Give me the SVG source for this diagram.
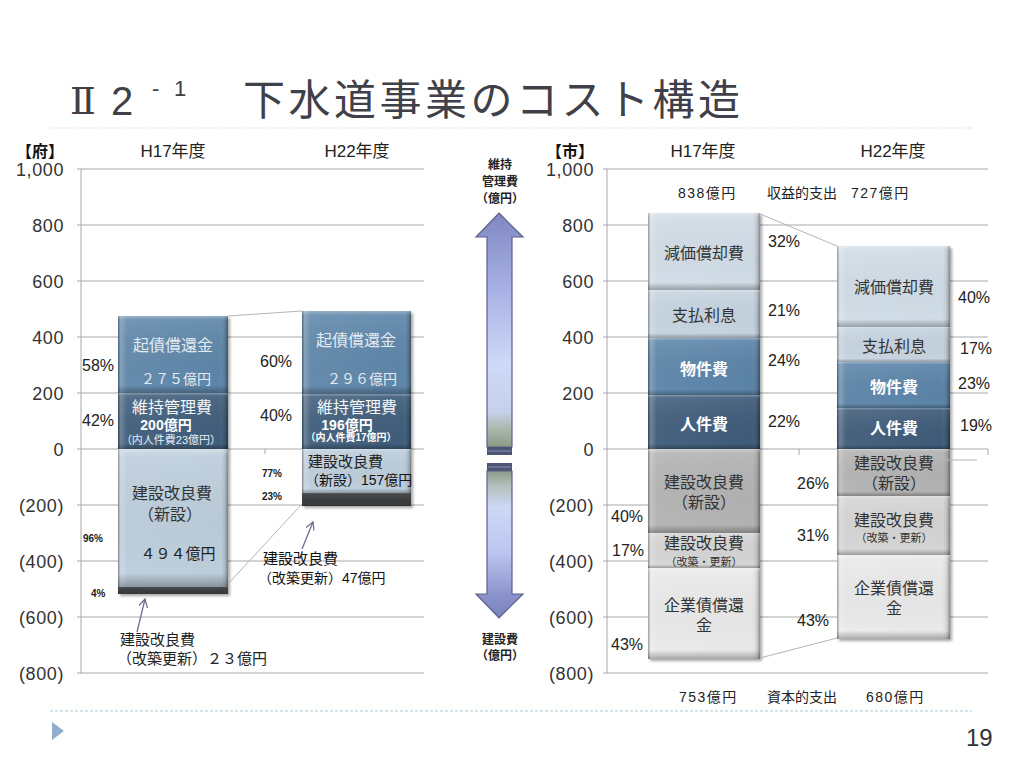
<svg xmlns="http://www.w3.org/2000/svg" width="1024" height="768" viewBox="0 0 1024 768">
<defs>
<style>
text{font-family:"Liberation Sans","Noto Sans CJK JP",sans-serif;fill:#222}
.grid{stroke:#a8a8a8;stroke-width:1}
.ax{font-size:18px;text-anchor:end;fill:#333;letter-spacing:0.6px}
.hd{font-size:17px;text-anchor:middle;fill:#222}
.pct{font-size:16px;fill:#222}
.sp{font-size:10px;font-weight:bold;fill:#222}
.lb{font-size:16px;text-anchor:middle;fill:#333}
.bw{font-weight:bold;fill:#fff}
.sm{font-size:11px;text-anchor:middle}
.hl{fill:url(#gh)}
.vl{fill:url(#gv)}
.shd{fill:#000;opacity:0.35;filter:url(#bl)}
.con{stroke:#b4b4b4;stroke-width:1;fill:none}
.ann{stroke:#6c7090;stroke-width:1.3;fill:none;marker-end:url(#ah)}
.mid{font-size:12px;text-anchor:middle;font-weight:bold;fill:#222}
.tot{font-size:14px;fill:#222}
.num{letter-spacing:1.5px}
</style>
<linearGradient id="gh" x1="0" y1="0" x2="1" y2="0">
<stop offset="0" stop-color="#000" stop-opacity="0.35"/>
<stop offset="0.025" stop-color="#fff" stop-opacity="0.25"/>
<stop offset="0.08" stop-color="#fff" stop-opacity="0.05"/>
<stop offset="0.92" stop-color="#fff" stop-opacity="0"/>
<stop offset="0.975" stop-color="#000" stop-opacity="0.12"/>
<stop offset="1" stop-color="#000" stop-opacity="0.4"/>
</linearGradient>
<linearGradient id="gv" x1="0" y1="0" x2="0" y2="1">
<stop offset="0" stop-color="#fff" stop-opacity="0.35"/>
<stop offset="0.05" stop-color="#fff" stop-opacity="0.08"/>
<stop offset="0.9" stop-color="#000" stop-opacity="0"/>
<stop offset="1" stop-color="#000" stop-opacity="0.28"/>
</linearGradient>
<filter id="bl" x="-10%" y="-10%" width="120%" height="120%"><feGaussianBlur stdDeviation="1.5"/></filter>
<marker id="ah" viewBox="0 0 10 10" refX="9" refY="5" markerWidth="9" markerHeight="9" markerUnits="userSpaceOnUse" orient="auto"><path d="M0,0 L9,5 L0,10" fill="none" stroke="#6c7090" stroke-width="1.4"/></marker>
<linearGradient id="arU" gradientUnits="userSpaceOnUse" x1="0" y1="213" x2="0" y2="447">
<stop offset="0" stop-color="#7f87c2"/>
<stop offset="0.35" stop-color="#abb4e6"/>
<stop offset="0.65" stop-color="#cfd9f8"/>
<stop offset="0.85" stop-color="#c6d0ea"/>
<stop offset="0.93" stop-color="#a8b4a8"/>
<stop offset="1" stop-color="#8c9a88"/>
</linearGradient>
<linearGradient id="arD" gradientUnits="userSpaceOnUse" x1="0" y1="471" x2="0" y2="618">
<stop offset="0" stop-color="#8c9a88"/>
<stop offset="0.1" stop-color="#b4c0bc"/>
<stop offset="0.25" stop-color="#cdd8f6"/>
<stop offset="0.55" stop-color="#bcc6f0"/>
<stop offset="0.85" stop-color="#8a92cc"/>
<stop offset="1" stop-color="#7a82bc"/>
</linearGradient>
</defs>
<rect width="1024" height="768" fill="#fff"/>

<g id="title">
<text x="70" y="114" font-size="38" style="font-family:'DejaVu Serif','Liberation Serif','Noto Sans CJK JP',serif;fill:#404048">Ⅱ</text>
<text x="111" y="115" font-size="40" style="fill:#404048">2</text>
<text x="152" y="96" font-size="22" style="fill:#404048">-</text>
<text x="174" y="96" font-size="22" style="fill:#404048">1</text>
<text x="243" y="115" font-size="42" letter-spacing="3.5" style="font-family:'Noto Sans CJK JP',sans-serif;fill:#404048">下水道事業のコスト構造</text>
</g>
<line x1="50" y1="128" x2="972" y2="128" stroke="#c4c4c4" stroke-width="1" stroke-dasharray="1,2"/>
<line x1="50" y1="711" x2="972" y2="711" stroke="#a9c4d8" stroke-width="1" stroke-dasharray="3,2"/>
<polygon points="52,722 64,731 52,740" fill="#8eaecb"/>
<text x="966" y="746" font-size="24" style="fill:#333">19</text>

<!-- LEFT CHART -->
<g id="left-axis">
<text x="16" y="157" font-size="16" font-weight="bold" style="fill:#111">【府】</text>
<text class="hd" x="173" y="157">H17年度</text>
<text class="hd" x="357" y="157">H22年度</text>
<g class="grid">
<line x1="77" y1="169" x2="424" y2="169"/><line x1="77" y1="225" x2="424" y2="225"/>
<line x1="77" y1="281" x2="424" y2="281"/><line x1="77" y1="337" x2="424" y2="337"/>
<line x1="77" y1="393" x2="424" y2="393"/><line x1="77" y1="449" x2="424" y2="449"/>
<line x1="77" y1="505" x2="424" y2="505"/><line x1="77" y1="561" x2="424" y2="561"/>
<line x1="77" y1="617" x2="424" y2="617"/><line x1="77" y1="673" x2="424" y2="673"/>
<line x1="81" y1="169" x2="81" y2="673"/>
<line x1="265" y1="449" x2="265" y2="454"/>
</g>
<text class="ax" x="64" y="176">1,000</text>
<text class="ax" x="64" y="232">800</text>
<text class="ax" x="64" y="288">600</text>
<text class="ax" x="64" y="344">400</text>
<text class="ax" x="64" y="400">200</text>
<text class="ax" x="64" y="456">0</text>
<text class="ax" x="64" y="512">(200)</text>
<text class="ax" x="64" y="568">(400)</text>
<text class="ax" x="64" y="624">(600)</text>
<text class="ax" x="64" y="680">(800)</text>
</g>

<rect class="shd" x="120" y="318" width="110" height="278"/>
<rect class="shd" x="304" y="313" width="109" height="195"/>

<g id="f17-kisai">
<rect x="118" y="316" width="110" height="77" fill="#5e86a9"/><rect class="hl" x="118" y="316" width="110" height="77"/><rect class="vl" x="118" y="316" width="110" height="77"/>
<text class="lb" x="173" y="351" style="fill:#e3ebf3">起債償還金</text>
<text class="lb" x="176" y="384" style="fill:#e3ebf3;font-size:14px">２７５億円</text>
</g>
<g id="f17-iji">
<rect x="118" y="393" width="110" height="56" fill="#3f5d7b"/><rect class="hl" x="118" y="393" width="110" height="56"/><rect class="vl" x="118" y="393" width="110" height="56"/>
<text class="lb" x="172" y="413" style="fill:#f4f7fa">維持管理費</text>
<text class="lb" x="166" y="430" style="fill:#fff;font-size:14px;font-weight:bold">200億円</text>
<text class="sm" x="171" y="444" style="fill:#e8eef4">（内人件費23億円）</text>
</g>
<g id="f17-shinsetsu">
<rect x="118" y="449" width="110" height="138" fill="#bccddb"/><rect class="hl" x="118" y="449" width="110" height="138"/><rect class="vl" x="118" y="449" width="110" height="138"/>
<text class="lb" x="172" y="499">建設改良費</text>
<text class="lb" x="170" y="520">（新設）</text>
<text class="lb" x="178" y="559" style="fill:#222;font-size:15px">４９４億円</text>
</g>
<g id="f17-kaichiku">
<rect x="118" y="587" width="110" height="7" fill="#3a3b3d"/><rect class="vl" x="118" y="587" width="110" height="7"/>
</g>

<g id="f22-kisai">
<rect x="302" y="311" width="109" height="83" fill="#5e86a9"/><rect class="hl" x="302" y="311" width="109" height="83"/><rect class="vl" x="302" y="311" width="109" height="83"/>
<text class="lb" x="356" y="346" style="fill:#e3ebf3">起債償還金</text>
<text class="lb" x="362" y="384" style="fill:#e3ebf3;font-size:14px">２９６億円</text>
</g>
<g id="f22-iji">
<rect x="302" y="394" width="109" height="55" fill="#3f5d7b"/><rect class="hl" x="302" y="394" width="109" height="55"/><rect class="vl" x="302" y="394" width="109" height="55"/>
<text class="lb" x="357" y="413" style="fill:#f4f7fa">維持管理費</text>
<text class="lb" x="347" y="430" style="fill:#fff;font-size:14px;font-weight:bold">196億円</text>
<text class="sm" x="351" y="441" style="fill:#fff;font-size:10px;font-weight:bold">（内人件費17億円）</text>
</g>
<g id="f22-shinsetsu">
<rect x="302" y="449" width="109" height="44" fill="#bccddb"/><rect class="hl" x="302" y="449" width="109" height="44"/><rect class="vl" x="302" y="449" width="109" height="44"/>
<text x="308" y="467" font-size="15" style="fill:#222">建設改良費</text>
<text x="305" y="485" font-size="14" style="fill:#111">（新設）157億円</text>
</g>
<g id="f22-kaichiku">
<rect x="302" y="493" width="109" height="13" fill="#3a3b3d"/><rect class="vl" x="302" y="493" width="109" height="13"/>
</g>

<g id="left-pct">
<text class="pct" x="82" y="371">58%</text>
<text class="pct" x="82" y="426">42%</text>
<text class="pct" x="260" y="367">60%</text>
<text class="pct" x="260" y="421">40%</text>
<text class="sp" x="262" y="477">77%</text>
<text class="sp" x="262" y="500">23%</text>
<text class="sp" x="83" y="542">96%</text>
<text class="sp" x="91" y="597">4%</text>
</g>

<g id="left-annotations">
<text x="263" y="564" font-size="15" style="fill:#111">建設改良費</text>
<text x="258" y="583" font-size="14" style="fill:#111">（改築更新）47億円</text>
<text x="120" y="645" font-size="15" style="fill:#222">建設改良費</text>
<text x="117" y="664" font-size="15" style="fill:#222">（改築更新）２３億円</text>
</g>

<!-- MIDDLE ARROW -->
<g id="mid-arrow">
<text class="mid" x="500" y="169">維持</text>
<text class="mid" x="500" y="186">管理費</text>
<text class="mid" x="500" y="203">（億円）</text>
<path d="M499,213 L523,237 L512,237 L512,447 L487,447 L487,237 L476,237 Z" fill="url(#arU)" stroke="#5a6088" stroke-width="1.2"/>
<rect x="487" y="447" width="25" height="8" fill="#4d5577"/>
<line x1="488" y1="451" x2="511" y2="451" stroke="#8890b0" stroke-width="1"/>
<rect x="487" y="463" width="25" height="8" fill="#4d5577"/>
<line x1="488" y1="467" x2="511" y2="467" stroke="#8890b0" stroke-width="1"/>
<path d="M487,471 L512,471 L512,594 L523,594 L499,618 L476,594 L487,594 Z" fill="url(#arD)" stroke="#5a6088" stroke-width="1.2"/>
<text class="mid" x="500" y="644">建設費</text>
<text class="mid" x="500" y="660">（億円）</text>
</g>

<!-- RIGHT CHART -->
<g id="right-axis">
<text x="546" y="157" font-size="16" font-weight="bold" style="fill:#111">【市】</text>
<text class="hd" x="703" y="157">H17年度</text>
<text class="hd" x="893" y="157">H22年度</text>
<g class="grid">
<line x1="603" y1="169" x2="988" y2="169"/><line x1="603" y1="225" x2="988" y2="225"/>
<line x1="603" y1="281" x2="988" y2="281"/><line x1="603" y1="337" x2="988" y2="337"/>
<line x1="603" y1="393" x2="988" y2="393"/><line x1="603" y1="449" x2="988" y2="449"/>
<line x1="603" y1="505" x2="988" y2="505"/><line x1="603" y1="561" x2="988" y2="561"/>
<line x1="603" y1="617" x2="988" y2="617"/><line x1="603" y1="673" x2="988" y2="673"/>
<line x1="607" y1="169" x2="607" y2="673"/>
<line x1="799" y1="449" x2="799" y2="455"/>
<line x1="988" y1="449" x2="988" y2="455"/>
</g>
<text class="ax" x="594" y="176">1,000</text>
<text class="ax" x="594" y="232">800</text>
<text class="ax" x="594" y="288">600</text>
<text class="ax" x="594" y="344">400</text>
<text class="ax" x="594" y="400">200</text>
<text class="ax" x="594" y="456">0</text>
<text class="ax" x="594" y="512">(200)</text>
<text class="ax" x="594" y="568">(400)</text>
<text class="ax" x="594" y="624">(600)</text>
<text class="ax" x="594" y="680">(800)</text>
</g>

<g id="right-totals">
<text class="tot num" x="678" y="198">838億円</text>
<text class="tot" x="767" y="198">収益的支出</text>
<text class="tot num" x="851" y="198">727億円</text>
<text class="tot num" x="679" y="702">753億円</text>
<text class="tot" x="767" y="702">資本的支出</text>
<text class="tot num" x="866" y="702">680億円</text>
</g>

<rect class="shd" x="650" y="215" width="112" height="446"/>
<rect class="shd" x="839" y="248" width="113" height="393"/>

<g id="s17-genka">
<rect x="648" y="213" width="112" height="77" fill="#d0dce6"/><rect class="hl" x="648" y="213" width="112" height="77"/><rect class="vl" x="648" y="213" width="112" height="77"/>
<text class="lb" x="704" y="259">減価償却費</text>
</g>
<g id="s17-shiharai">
<rect x="648" y="290" width="112" height="48" fill="#c5d3df"/><rect class="hl" x="648" y="290" width="112" height="48"/><rect class="vl" x="648" y="290" width="112" height="48"/>
<text class="lb" x="704" y="321">支払利息</text>
</g>
<g id="s17-bukken">
<rect x="648" y="338" width="112" height="57" fill="#5b84a8"/><rect class="hl" x="648" y="338" width="112" height="57"/><rect class="vl" x="648" y="338" width="112" height="57"/>
<text class="lb bw" x="704" y="375">物件費</text>
</g>
<g id="s17-jinken">
<rect x="648" y="395" width="112" height="54" fill="#3e5b79"/><rect class="hl" x="648" y="395" width="112" height="54"/><rect class="vl" x="648" y="395" width="112" height="54"/>
<text class="lb bw" x="704" y="430">人件費</text>
</g>
<g id="s17-shinsetsu">
<rect x="648" y="449" width="112" height="84" fill="#b2b2b2"/><rect class="hl" x="648" y="449" width="112" height="84"/><rect class="vl" x="648" y="449" width="112" height="84"/>
<text class="lb" x="704" y="488">建設改良費</text>
<text class="lb" x="704" y="508">（新設）</text>
</g>
<g id="s17-kaichiku">
<rect x="648" y="533" width="112" height="35" fill="#d4d4d4"/><rect class="hl" x="648" y="533" width="112" height="35"/><rect class="vl" x="648" y="533" width="112" height="35"/>
<text class="lb" x="704" y="549">建設改良費</text>
<text class="sm" x="704" y="566" style="fill:#333">（改築・更新）</text>
</g>
<g id="s17-kigyosai">
<rect x="648" y="568" width="112" height="91" fill="#e9e9e9"/><rect class="hl" x="648" y="568" width="112" height="91"/><rect class="vl" x="648" y="568" width="112" height="91"/>
<text class="lb" x="704" y="611">企業債償還</text>
<text class="lb" x="704" y="631">金</text>
</g>

<g id="s22-genka">
<rect x="837" y="246" width="113" height="81" fill="#d0dce6"/><rect class="hl" x="837" y="246" width="113" height="81"/><rect class="vl" x="837" y="246" width="113" height="81"/>
<text class="lb" x="894" y="293">減価償却費</text>
</g>
<g id="s22-shiharai">
<rect x="837" y="327" width="113" height="35" fill="#c5d3df"/><rect class="hl" x="837" y="327" width="113" height="35"/><rect class="vl" x="837" y="327" width="113" height="35"/>
<text class="lb" x="894" y="352">支払利息</text>
</g>
<g id="s22-bukken">
<rect x="837" y="362" width="113" height="46" fill="#5b84a8"/><rect class="hl" x="837" y="362" width="113" height="46"/><rect class="vl" x="837" y="362" width="113" height="46"/>
<text class="lb bw" x="894" y="393">物件費</text>
</g>
<g id="s22-jinken">
<rect x="837" y="408" width="113" height="41" fill="#3e5b79"/><rect class="hl" x="837" y="408" width="113" height="41"/><rect class="vl" x="837" y="408" width="113" height="41"/>
<text class="lb bw" x="894" y="434">人件費</text>
</g>
<g id="s22-shinsetsu">
<rect x="837" y="449" width="113" height="47" fill="#b2b2b2"/><rect class="hl" x="837" y="449" width="113" height="47"/><rect class="vl" x="837" y="449" width="113" height="47"/>
<text class="lb" x="894" y="469">建設改良費</text>
<text class="lb" x="894" y="489">（新設）</text>
</g>
<g id="s22-kaichiku">
<rect x="837" y="496" width="113" height="59" fill="#d4d4d4"/><rect class="hl" x="837" y="496" width="113" height="59"/><rect class="vl" x="837" y="496" width="113" height="59"/>
<text class="lb" x="894" y="526">建設改良費</text>
<text class="sm" x="894" y="542" style="fill:#333">（改築・更新）</text>
</g>
<g id="s22-kigyosai">
<rect x="837" y="555" width="113" height="84" fill="#e9e9e9"/><rect class="hl" x="837" y="555" width="113" height="84"/><rect class="vl" x="837" y="555" width="113" height="84"/>
<text class="lb" x="894" y="594">企業債償還</text>
<text class="lb" x="894" y="614">金</text>
</g>

<g id="right-pct">
<text class="pct" x="768" y="247">32%</text>
<text class="pct" x="768" y="316">21%</text>
<text class="pct" x="768" y="366">24%</text>
<text class="pct" x="768" y="427">22%</text>
<text class="pct" x="958" y="303">40%</text>
<text class="pct" x="960" y="354">17%</text>
<text class="pct" x="958" y="389">23%</text>
<text class="pct" x="960" y="431">19%</text>
<text class="pct" x="797" y="489">26%</text>
<text class="pct" x="797" y="541">31%</text>
<text class="pct" x="797" y="626">43%</text>
<text class="pct" x="611" y="522">40%</text>
<text class="pct" x="612" y="556">17%</text>
<text class="pct" x="611" y="650">43%</text>
</g>

<g id="connectors">
<line class="con" x1="228" y1="316" x2="302" y2="311"/>
<line class="con" x1="228" y1="584" x2="301" y2="505"/>
<line class="con" x1="760" y1="214" x2="837" y2="246"/>
<line class="con" x1="760" y1="658" x2="837" y2="638"/>
<line class="con" x1="933" y1="460" x2="977" y2="460"/>
<line class="ann" x1="302" y1="549" x2="313" y2="522"/>
<line class="ann" x1="137" y1="632" x2="145" y2="599"/>
</g>
</svg>
